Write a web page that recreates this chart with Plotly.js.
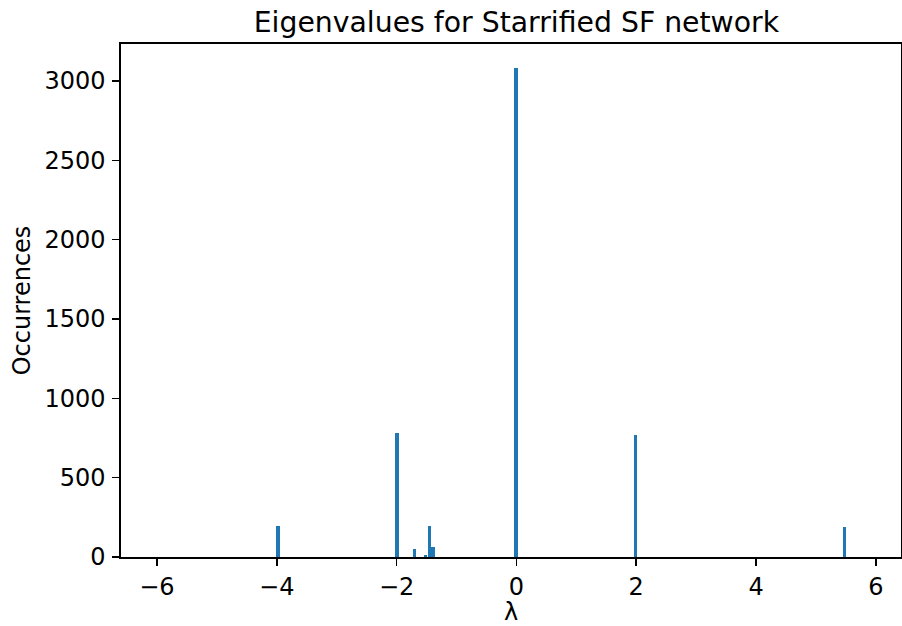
<!DOCTYPE html>
<html>
<head>
<meta charset="utf-8">
<script src="https://cdn.plot.ly/plotly-3.0.1.min.js"></script>
<style>html,body{margin:0;padding:0;background:#fff;}#chart{width:902px;height:626px;}</style>
</head>
<body>
<div id="chart"></div>
<script>
// Histogram bins with non-zero counts (bin centre, count)
const binCenters = [-3.98, -1.99, -1.70, -1.515, -1.45, -1.39, -0.01, 1.985, 5.477];
const counts     = [193,   779,   50,    12,     195,   63,    3080,  769,   191];
const xTicks = [-6, -4, -2, 0, 2, 4, 6];
const yTicks = [0, 500, 1000, 1500, 2000, 2500, 3000];

const font = {family: 'DejaVu Sans, sans-serif', color: '#000'};

const trace = {
  type: 'bar',
  x: binCenters,
  y: counts,
  width: 0.059,
  marker: {color: '#1f77b4', line: {width: 0}},
  hoverinfo: 'x+y'
};

const axisCommon = {
  showline: true, linecolor: '#000', linewidth: 1.6, mirror: true,
  ticks: 'outside', ticklen: 7, tickwidth: 1.6, tickcolor: '#000',
  showgrid: false, zeroline: false,
  tickfont: Object.assign({size: 24}, font)
};

const layout = {
  width: 902, height: 626,
  margin: {l: 121, r: 1, t: 44, b: 69},
  paper_bgcolor: '#fff', plot_bgcolor: '#fff',
  showlegend: false,
  bargap: 0,
  title: {text: 'Eigenvalues for Starrified SF network', font: Object.assign({size: 28.3}, font),
          x: 0.5725, xanchor: 'center', y: 0.965, yanchor: 'middle'},
  xaxis: Object.assign({}, axisCommon, {
    range: [-6.6, 6.42], tickvals: xTicks, ticktext: xTicks.map(v => v < 0 ? '\u2212' + Math.abs(v) : String(v)),
    ticklabelstandoff: 1,
    title: {text: 'λ', font: Object.assign({size: 24}, font), standoff: 13}
  }),
  yaxis: Object.assign({}, axisCommon, {
    range: [0, 3233], tickvals: yTicks, ticklabelstandoff: 2,
    title: {text: 'Occurrences', font: Object.assign({size: 24}, font), standoff: 7}
  })
};

Plotly.newPlot('chart', [trace], layout, {displayModeBar: false, staticPlot: true});
</script>
</body>
</html>
